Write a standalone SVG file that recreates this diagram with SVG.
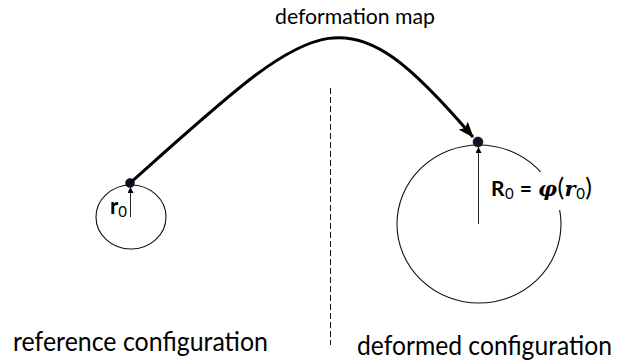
<svg xmlns="http://www.w3.org/2000/svg" width="625" height="364" viewBox="0 0 625 364">
  <defs>
    <marker id="bigArrow" viewBox="0 0 16 12" refX="15" refY="6" markerWidth="16" markerHeight="12" markerUnits="userSpaceOnUse" orient="auto">
      <path d="M0,0 L16,6 L0,12 L3,6 z" fill="#000"/>
    </marker>
    <marker id="smallArrow" viewBox="0 0 6 6" refX="6" refY="3" markerWidth="6" markerHeight="6" markerUnits="userSpaceOnUse" orient="auto">
      <path d="M0,0 L6,3 L0,6 z" fill="#000"/>
    </marker>
    <style>
      .lbl { font-family: Lato, "Noto Sans", "Liberation Sans", sans-serif; fill: #000; }
      .ring { fill: none; stroke: #111; stroke-width: 1.1; }
      .radius { stroke: #222; stroke-width: 1; marker-end: url(#smallArrow); }
      .dot { fill: #0a1424; stroke: #000; stroke-width: 0.5; }
      .math { font-family: "DejaVu Serif", serif; font-style: italic; font-weight: bold; }
    </style>
  </defs>
  <rect width="625" height="364" fill="#fff"/>

  <text class="lbl" x="275" y="24" font-size="22" textLength="160" lengthAdjust="spacingAndGlyphs">deformation map</text>

  <line x1="330.5" y1="88" x2="330.5" y2="345" stroke="#111" stroke-width="1" stroke-dasharray="6,3"/>

  <g id="reference">
    <ellipse class="ring" cx="131" cy="217" rx="35" ry="32"/>
    <line class="radius" x1="130.5" y1="217" x2="130.5" y2="187"/>
    <text class="lbl" x="110" y="214" font-size="22" font-weight="bold">r<tspan font-size="15" font-weight="normal" dy="3">0</tspan></text>
    <circle class="dot" cx="130" cy="183" r="4.5"/>
  </g>

  <g id="deformed">
    <ellipse class="ring" cx="479" cy="224" rx="82" ry="79"/>
    <rect x="486" y="172" width="118" height="38" fill="#fff"/>
    <line class="radius" x1="478.5" y1="224" x2="478.5" y2="147"/>
    <text class="lbl" x="491" y="196" font-size="21" textLength="101" lengthAdjust="spacing"><tspan font-weight="bold">R</tspan><tspan font-size="15" dy="3">0</tspan><tspan dy="-3" font-weight="bold"> = </tspan><tspan class="math">φ</tspan><tspan font-size="25">(</tspan><tspan class="math">r</tspan><tspan font-size="15" dy="3">0</tspan><tspan font-size="25" dy="-3">)</tspan></text>
    <circle class="dot" cx="478" cy="142" r="5"/>
  </g>

  <g id="connectors">
    <path d="M130,183 C320,14 342,-16 473,137" fill="none" stroke="#000" stroke-width="3" marker-end="url(#bigArrow)"/>
  </g>

  <text class="lbl" x="13" y="351" font-size="26" textLength="255" lengthAdjust="spacingAndGlyphs">reference configuration</text>
  <text class="lbl" x="357" y="355" font-size="26" textLength="255" lengthAdjust="spacingAndGlyphs">deformed configuration</text>
</svg>
